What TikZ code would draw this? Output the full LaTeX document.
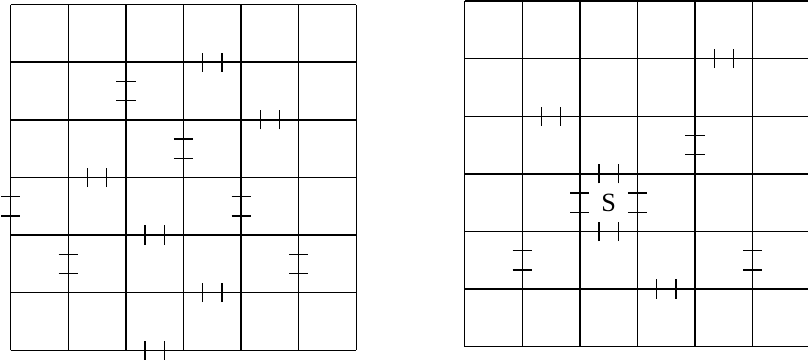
\documentclass[tikz,border=0pt]{standalone}
\usepackage{fontspec}
\setmainfont{Liberation Serif}
\usepackage{tikz}
\tikzstyle{gridline} = [line width=0.7pt, draw=black]
\tikzstyle{tick}     = [line width=0.7pt, draw=black]
\tikzstyle{label}    = [font=\fontsize{13}{15}\selectfont, inner sep=0pt]

\begin{document}
\begin{tikzpicture}
    \useasboundingbox (-0.186,-0.22) rectangle (13.84,6.08);

    % left board
    \begin{scope}
        \draw [gridline] (0,0) grid (6,6);
        % ticks across horizontal edges
        \foreach \x/\y in {3/5, 4/4, 1/3, 2/2, 3/1, 2/0}
            \draw [tick] (\x+1/3,\y-1/6) -- ++(0,1/3) (\x+2/3,\y-1/6) -- ++(0,1/3);
        % ticks across vertical edges
        \foreach \x/\y in {2/4, 3/3, 0/2, 4/2, 1/1, 5/1}
            \draw [tick] (\x-1/6,\y+1/3) -- ++(1/3,0) (\x-1/6,\y+2/3) -- ++(1/3,0);
    \end{scope}

    % right board
    \begin{scope}[shift={(7.88,0.0625)}]
        \draw [gridline] (0,0) grid (6,6);
        \foreach \x/\y in {4/5, 1/4, 2/3, 2/2, 3/1}
            \draw [tick] (\x+1/3,\y-1/6) -- ++(0,1/3) (\x+2/3,\y-1/6) -- ++(0,1/3);
        \foreach \x/\y in {4/3, 2/2, 3/2, 1/1, 5/1}
            \draw [tick] (\x-1/6,\y+1/3) -- ++(1/3,0) (\x-1/6,\y+2/3) -- ++(1/3,0);
        \node (start) at (2.5,2.5) [label] {S};
    \end{scope}
\end{tikzpicture}
\end{document}
